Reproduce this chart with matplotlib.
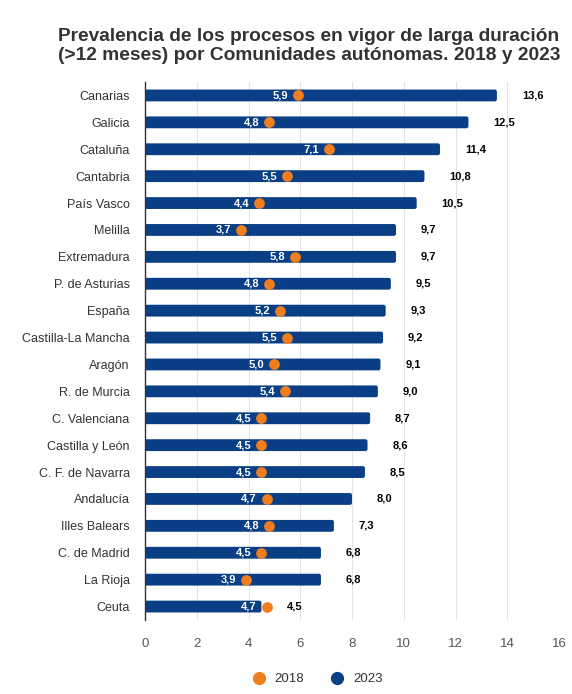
import matplotlib.pyplot as plt
from matplotlib.lines import Line2D
from matplotlib.patches import FancyBboxPatch

plt.rcParams['font.family'] = ['Liberation Sans', 'DejaVu Sans']

regions = ['Canarias', 'Galicia', 'Cataluña', 'Cantabria', 'País Vasco', 'Melilla',
           'Extremadura', 'P. de Asturias', 'España', 'Castilla-La Mancha', 'Aragón',
           'R. de Murcia', 'C. Valenciana', 'Castilla y León', 'C. F. de Navarra',
           'Andalucía', 'Illes Balears', 'C. de Madrid', 'La Rioja', 'Ceuta']
v2023 = [13.6, 12.5, 11.4, 10.8, 10.5, 9.7, 9.7, 9.5, 9.3, 9.2, 9.1, 9.0,
         8.7, 8.6, 8.5, 8.0, 7.3, 6.8, 6.8, 4.5]
v2018 = [5.9, 4.8, 7.1, 5.5, 4.4, 3.7, 5.8, 4.8, 5.2, 5.5, 5.0, 5.4,
         4.5, 4.5, 4.5, 4.7, 4.8, 4.5, 3.9, 4.7]
xticks = [0, 2, 4, 6, 8, 10, 12, 14, 16]

blue = '#0b3f85'
orange = '#f07d1e'

def fmt(v):
    return f'{v:.1f}'.replace('.', ',')

fig = plt.figure(figsize=(5.72, 6.94), dpi=100)
ax = fig.add_axes([145/572, 1-620/694, (559-145)/572, (620-82)/694])

ypos = list(range(len(regions)))
bars = ax.barh(ypos, v2023, height=0.44, color=blue, zorder=2)
# swap plain bars for slightly rounded ones
for b in bars:
    x0, y0 = b.get_x(), b.get_y()
    w, h = b.get_width(), b.get_height()
    b.set_visible(False)
    ax.add_patch(FancyBboxPatch((x0, y0), w, h, boxstyle='round,pad=0,rounding_size=0.08',
                                facecolor=blue, edgecolor='none', zorder=2))
ax.scatter(v2018, ypos, s=60, color=orange, zorder=3, linewidths=0)

for y, a, b in zip(ypos, v2023, v2018):
    ax.annotate(fmt(a), (a, y), xytext=(18, 0), textcoords='offset points',
                ha='left', va='center', fontsize=8, fontweight='bold', color='black')
    ax.annotate(fmt(b), (b, y), xytext=(-7, 0), textcoords='offset points',
                ha='right', va='center', fontsize=8, fontweight='bold', color='white', zorder=4)

ax.set_xlim(0, 16)
ax.set_ylim(len(regions) - 0.5, -0.5)
ax.set_xticks(xticks)
ax.set_xticklabels([str(t) for t in xticks])
ax.set_yticks(ypos)
ax.set_yticklabels(regions)
ax.tick_params(axis='x', length=0, pad=13, labelsize=9.5, labelcolor='#555555')
ax.tick_params(axis='y', length=0, pad=11, labelsize=9, labelcolor='#333333')
ax.grid(axis='x', color='#e3e3e3', linewidth=0.8, zorder=0)
for s in ['top', 'right', 'bottom']:
    ax.spines[s].set_visible(False)
ax.spines['left'].set_color('#333333')
ax.spines['left'].set_linewidth(1)
ax.spines['left'].set_zorder(5)

fig.text(309/572, 1-46/694,
         'Prevalencia de los procesos en vigor de larga duración\n(>12 meses) por Comunidades autónomas. 2018 y 2023',
         ha='center', va='center', fontsize=13.8, fontweight='bold', color='#333333', linespacing=1.15)

handles = [Line2D([], [], marker='o', linestyle='', color=orange, markersize=8.5),
           Line2D([], [], marker='o', linestyle='', color=blue, markersize=8.5)]
fig.legend(handles, ['2018', '2023'], loc='center', bbox_to_anchor=(314/572, 1-679/694),
           ncol=2, frameon=False, fontsize=9.5, handletextpad=0.2, columnspacing=1.5,
           labelcolor='#333333')

fig.savefig('out.png', dpi=100)
